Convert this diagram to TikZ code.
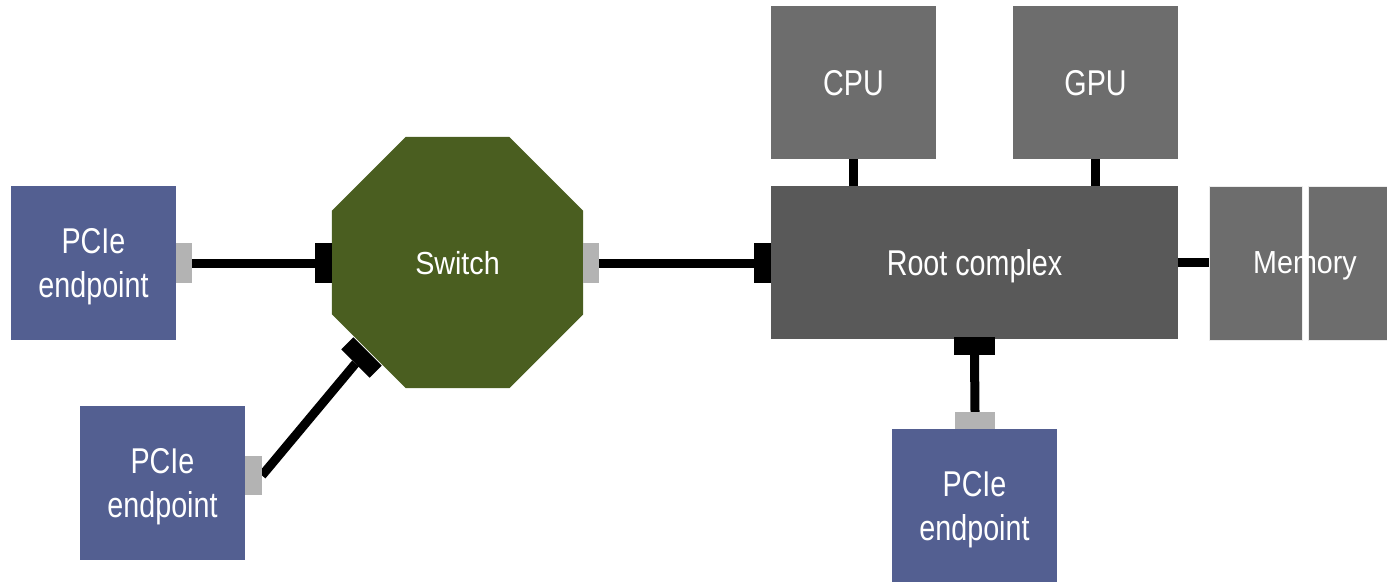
\documentclass[tikz,border=0pt]{standalone}
\usepackage{fontspec}
\setmainfont{Liberation Sans}
\newfontfamily\widelbl{Liberation Sans}[FakeStretch=0.8]
\newfontfamily\narrowlbl{Liberation Sans}[FakeStretch=0.9]
\usetikzlibrary{shapes.geometric}
\pgfdeclarelayer{back}
\pgfsetlayers{back,main}

\definecolor{epblue}{RGB}{83,95,145}
\definecolor{swgreen}{RGB}{74,94,32}
\definecolor{rootgray}{RGB}{89,89,89}
\definecolor{unitgray}{RGB}{109,109,109}
\definecolor{portgray}{RGB}{179,179,179}

\newcommand{\biglbl}{\widelbl\fontsize{36}{45}\selectfont}
\newcommand{\smalllbl}{\narrowlbl\fontsize{32}{40}\selectfont}

\tikzset{
  box/.style={rectangle, inner sep=0pt, outer sep=0pt, text=white, font=\biglbl,
              align=center, text depth=0pt},
  ep/.style={box, fill=epblue, minimum width=165bp, minimum height=154bp},
  unit/.style={box, fill=unitgray, minimum width=165bp, minimum height=153bp},
  membank/.style={box, fill=unitgray, draw=white!85!gray, line width=0.8bp,
                  minimum width=93bp, minimum height=154bp},
  gport/.style={rectangle, fill=portgray, inner sep=0pt, outer sep=0pt},
  bport/.style={rectangle, fill=black, inner sep=0pt, outer sep=0pt},
  link/.style={line width=9bp, draw=black},
}

\begin{document}
\begin{tikzpicture}[x=1bp, y=-1bp]
\useasboundingbox (0,0) rectangle (1387,582);

% endpoints
\node[ep] (ep1) at (93.5,263) {PCIe\\endpoint};
\node[ep] (ep2) at (162.5,483) {PCIe\\endpoint};
\node[ep] (ep3) at (974.5,506) {PCIe\\endpoint};

% switch
\node[regular polygon, regular polygon sides=8, minimum size=271.7bp,
      inner sep=0pt, outer sep=0pt, fill=swgreen, text=white, font=\smalllbl,
      text depth=0pt]
      (sw) at (457.5,262.5) {Switch};

% host side
\node[box, fill=rootgray, minimum width=407bp, minimum height=153bp]
      (root) at (974.5,262.5) {Root complex};
\node[unit] (cpu) at (853.5,82.5) {CPU};
\node[unit] (gpu) at (1095.5,82.5) {GPU};
\node[membank] (mem1) at (1255.5,263) {};
\node[membank] (mem2) at (1354.5,263) {};
\node[text=white, font=\smalllbl, inner sep=0pt, text depth=0pt] (memlbl) at (1305,263) {Memory};

% ports
\node[gport, minimum width=16bp, minimum height=40bp] (p1) at (184,263) {};
\node[bport, minimum width=17bp, minimum height=40bp] (s1) at (323.5,263) {};
\node[gport, minimum width=17bp, minimum height=39bp] (p2) at (253.5,475.5) {};
\node[bport, minimum width=40bp, minimum height=17bp, rotate=-45] (s2) at (361.5,357.5) {};
\node[gport, minimum width=16bp, minimum height=40bp] (s3) at (591,263) {};
\node[bport, minimum width=17bp, minimum height=40bp] (r1) at (762.5,263) {};
\node[bport, minimum width=41bp, minimum height=18bp] (rb) at (974.5,346) {};
\node[gport, minimum width=40bp, minimum height=17bp] (pb) at (975,420.5) {};

% links
\begin{pgfonlayer}{back}
\draw[link] (p1.east) -- (s1.west);
\draw[link] (p2.east) -- (s2.south);
\draw[link] (s3.east) -- (r1.west);
\draw[link] (rb.south) -- (pb.north);
\draw[link] (cpu.south) -- (cpu.south |- root.north);
\draw[link] (gpu.south) -- (gpu.south |- root.north);
\draw[link] (root.east) -- (root.east -| mem1.west);
\end{pgfonlayer}
\end{tikzpicture}
\end{document}
